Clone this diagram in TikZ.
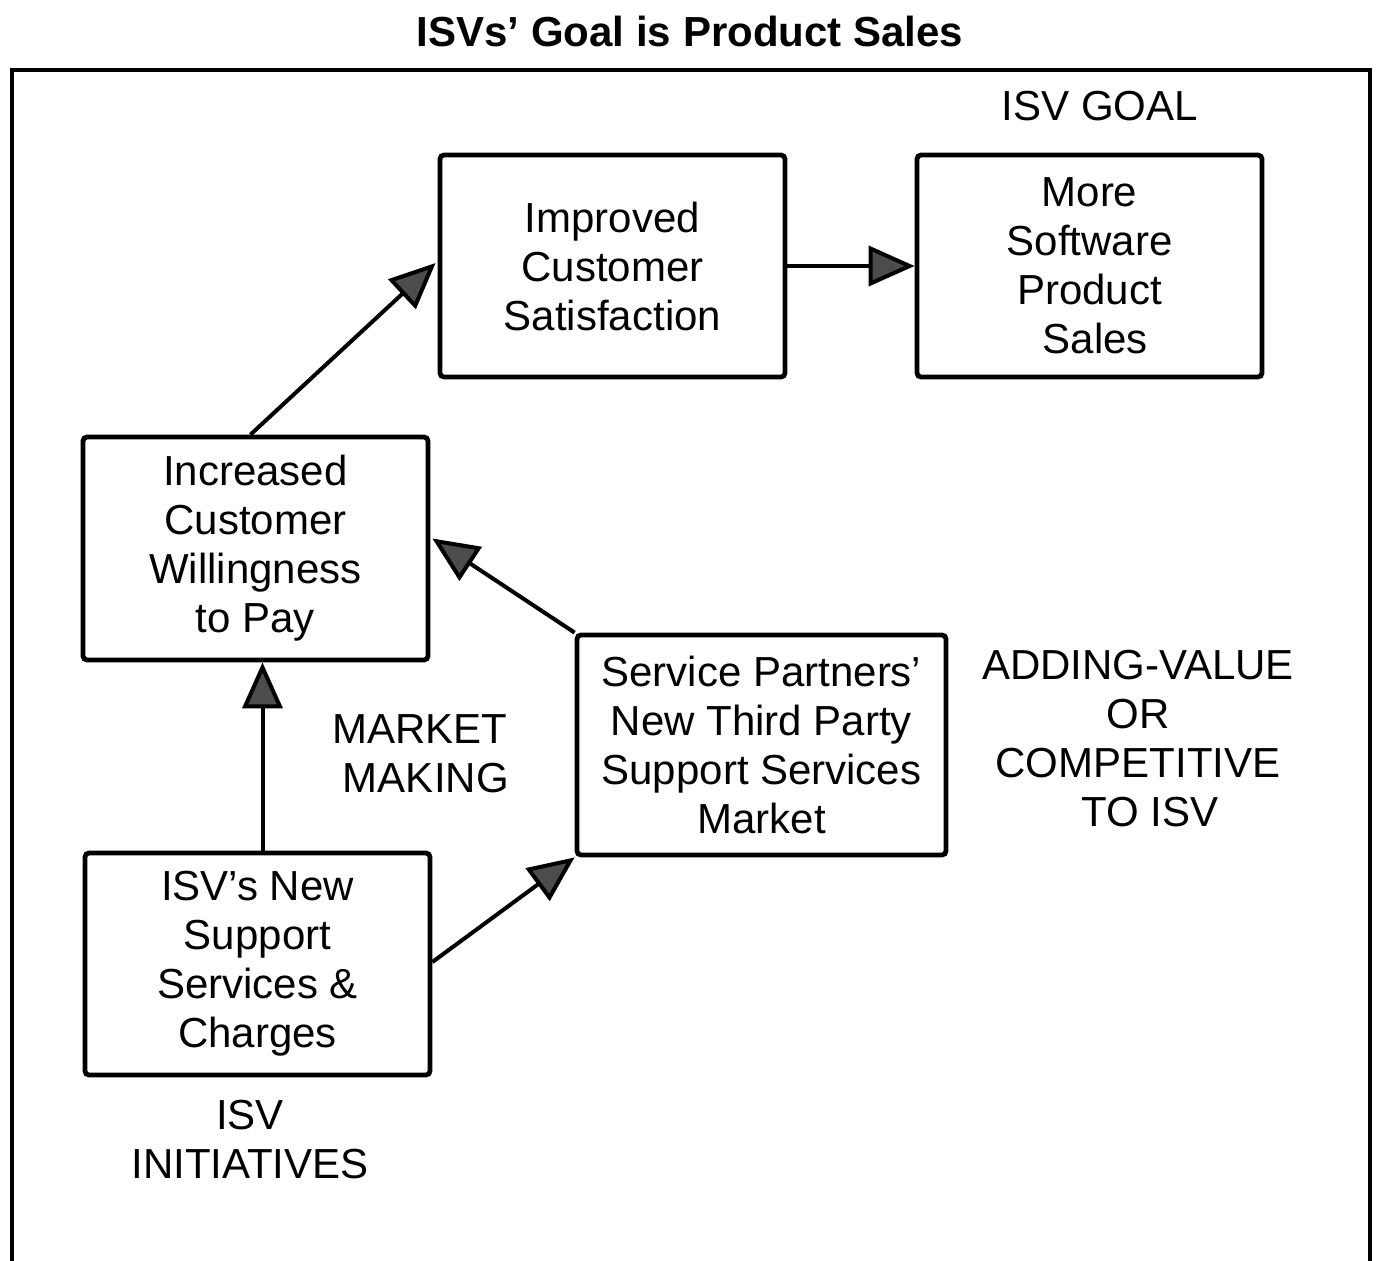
\documentclass[tikz,border=0pt]{standalone}
\usepackage{fontspec}
\setmainfont{Liberation Sans}
\usetikzlibrary{arrows.meta,calc}

\tikzset{
  stepbox/.style={draw, line width=2.4pt, rounded corners=2pt, align=center,
    inner sep=0pt, font=\fontsize{21}{24.5}\selectfont},
  lbl/.style={align=center, inner sep=0pt, font=\fontsize{21}{24.5}\selectfont},
  flow/.style={line width=2pt, -{Triangle[length=23pt,width=20pt,fill=black!70]}},
}

\begin{document}
\begin{tikzpicture}[x=0.5pt,y=-0.5pt]
  \useasboundingbox (0,0) rectangle (1377,1260);

  % title and open frame
  \node[font=\bfseries\fontsize{21}{24}\selectfont, inner sep=0pt] (title) at (690,31) {ISVs’ Goal is Product Sales};
  \draw[line width=1.6pt] (12,1262) -- (12,70) -- (1370,70) -- (1370,1262);

  % boxes
  \node[stepbox, minimum width=172.5pt, minimum height=111pt] (imp) at (612.5,266) {Improved\\Customer\\Satisfaction};
  \node[stepbox, minimum width=172.5pt, minimum height=111pt] (more) at (1089.5,266) {More\\Software\\Product\\\ Sales};
  \node[stepbox, minimum width=172.5pt, minimum height=111.5pt] (inc) at (255.5,548.5) {Increased\\Customer\\Willingness\\to Pay};
  \node[stepbox, minimum width=184.5pt, minimum height=110pt] (svc) at (761.5,745) {Service Partners'\\New Third Party\\Support Services\\Market};
  \node[stepbox, minimum width=172.5pt, minimum height=111pt] (isv) at (257.5,964) {ISV's New\\Support\\Services \&\\Charges};

  % free labels
  \node[lbl] (goal) at (1100,106) {ISV GOAL};
  \node[lbl] (addv) at (1138,739) {ADDING-VALUE\\OR\\COMPETITIVE\\\ \ TO ISV};
  \node[lbl] (mkt) at (420,754) {MARKET\\\ MAKING};
  \node[lbl] (init) at (250,1140) {ISV\\INITIATIVES};

  % connectors
  \draw[flow] ($(inc.north)+(-5,0)$) -- ($(imp.west)+(-2,-3)$);
  \draw[flow] (imp.east) -- (more.west);
  \draw[flow] (svc.north west) -- ($(inc.east)+(2,-10)$);
  \draw[flow] ($(isv.north)+(5,0)$) -- ($(inc.south)+(7,0)$);
  \draw[flow] ($(isv.east)+(0,-2)$) -- (svc.south west);
\end{tikzpicture}
\end{document}
